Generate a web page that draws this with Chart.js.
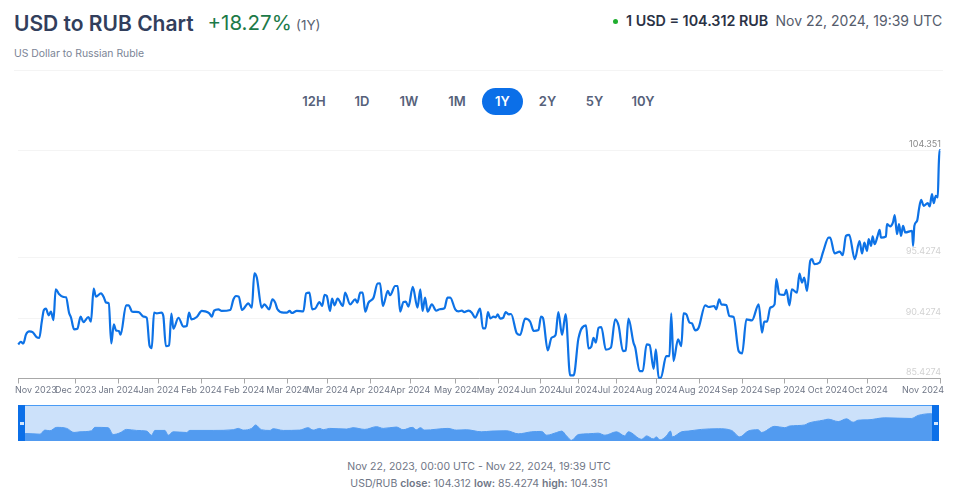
<!DOCTYPE html>
<html><head><meta charset="utf-8">
<script src="https://cdn.jsdelivr.net/npm/chart.js@4"></script>
<style>
html,body{margin:0;padding:0;background:#fff;width:964px;height:500px;overflow:hidden;font-family:Inter,sans-serif}
.a{position:absolute;white-space:nowrap;line-height:1}
.btn{position:absolute;top:94.5px;width:40px;margin-left:-20px;text-align:center;font-size:13px;font-weight:600;color:#56617a;line-height:1}
canvas{position:absolute;display:block}
</style></head><body>
<div class="a" style="left:14px;top:12.5px;font-size:21px;font-weight:600;color:#323e5c">USD to RUB Chart</div>
<div class="a" style="left:207.5px;top:12.5px;font-size:20.5px;font-weight:400;color:#1c7a48">+18.27%</div>
<div class="a" style="left:296px;top:18.5px;font-size:13.5px;color:#5a6272">(1Y)</div>
<div class="a" style="left:14px;top:49px;font-size:10.4px;color:#7b8496">US Dollar to Russian Ruble</div>
<div class="a" style="left:613px;top:18.5px;width:5px;height:5px;border-radius:50%;background:#1fae2e"></div>
<div class="a" style="left:626px;top:14px;font-size:14.3px;font-weight:600;color:#2b3245">1 USD = 104.312 RUB</div>
<div class="a" style="left:775.5px;top:14px;font-size:14px;color:#555c6c">Nov 22, 2024, 19:39 UTC</div>
<div class="a" style="left:14px;top:69.5px;width:929px;height:1px;background:#f4f4f4"></div>
<div class="btn" style="left:314px">12H</div>
<div class="btn" style="left:362px">1D</div>
<div class="btn" style="left:409px">1W</div>
<div class="btn" style="left:457px">1M</div>
<div class="a" style="left:482px;top:88px;width:41px;height:27px;border-radius:14px;background:#0b6fe8"></div>
<div class="btn" style="left:502.5px;color:#fff">1Y</div>
<div class="btn" style="left:547.5px">2Y</div>
<div class="btn" style="left:594.5px">5Y</div>
<div class="btn" style="left:643px">10Y</div>
<canvas id="main" style="left:0;top:130px" width="964" height="270"></canvas>
<div class="a" style="left:18px;top:405px;width:921px;height:36px;background:#cce1fa;border-top:1px solid #4a9bf5;box-sizing:border-box"></div>
<canvas id="nav" style="left:18px;top:405px" width="921" height="36"></canvas>
<div class="a" style="left:18px;top:405px;width:7px;height:36px;background:#0b6fe8"></div>
<div class="a" style="left:932px;top:405px;width:7px;height:36px;background:#0b6fe8"></div>
<div class="a" style="left:19.5px;top:422px;width:4px;height:3px;background:#d5e6fb"></div>
<div class="a" style="left:933.5px;top:422px;width:4px;height:3px;background:#d5e6fb"></div>
<div class="a" style="left:0;width:958px;text-align:center;top:462px;font-size:10.5px;color:#6f7686">Nov 22, 2023, 00:00 UTC - Nov 22, 2024, 19:39 UTC</div>
<div class="a" style="left:0;width:958px;text-align:center;top:479px;font-size:10.5px;color:#6f7686">USD/RUB <b style="font-weight:600">close:</b> 104.312 <b style="font-weight:600">low:</b> 85.4274 <b style="font-weight:600">high:</b> 104.351</div>
<script>
const dayOffsets=[0.1,1.1,2.1,3.2,4.5,5.8,7.4,8.5,9.4,10.3,11.1,12.2,13.1,14.1,15,16.4,18,19.1,20.3,21.1,22.3,23.6,24.9,26,28,29,30.1,31,33,34.2,35,36.1,37.1,38.1,39,40.1,40.8,43,44,45.4,48,49.9,51.2,52.3,53.2,54.1,55.2,57,57.8,58.8,60.1,61,61.8,63.8,65.8,67.1,68,69,71.1,73.1,74.4,76.1,77.1,78,79.7,81,84.4,85.7,86.7,87.8,89.1,91.6,93,94,95,96.9,98,99.9,101.2,102.3,103.2,105.6,106.9,108,108.9,110.9,113.5,114.6,115.9,117,118.2,119.9,121,121.9,122.8,124.1,124.9,125.9,127.1,129.2,130.1,132.1,134.1,135,136.1,137.1,138.1,139.4,141.4,143,144,145.1,147.1,148,150,151,152,153.3,154.2,155.3,157,158.9,160,160.9,161.9,162.9,164.6,166.3,167.7,169.6,170.8,171.9,173.9,175.2,176.5,177.5,179.2,180.5,181.8,183.8,184.9,185.9,186.9,187.9,189.1,190,190.8,191.8,192.9,194,195.2,196.1,198.4,199.7,201.7,203.7,205.1,207,208,208.8,210.7,212.2,213.8,214.9,216.4,217.8,219.6,221,222.9,225.9,226.9,228,228.9,229.8,230.9,232,233.8,235.8,237.5,238.9,240.6,241.7,242.8,244.8,245.5,247.2,248.5,250,251.2,252.8,253.7,254.8,255.7,257.8,259.1,259.8,260.7,262.5,263.8,264.7,265.8,267.1,268,269.4,270.7,273.3,274.7,276.9,277.7,278.9,279.7,281.7,282.9,284.6,286.6,288,289.7,291.9,294.6,295.9,296.8,297.9,299.2,300.9,301.6,302.8,304.8,305.6,306.8,307.8,309.8,310.8,311.8,312.7,313.8,315.1,315.8,316.7,318.8,320.2,322.4,323,324.8,326.8,328,329.3,330.6,332.8,334.7,335.7,336.6,337.7,338.3,339.3,339.9,340.7,341.9,342.7,343.2,345.2,345.6,346.9,348,348.7,349.6,350.4,351.2,352,352.9,355.6,356,356.5,357.6,358.4,359.2,360.2,361.8,362.6,363.5,364.2,365,365.8,366.2,366.5,366.7];
const usdRub=[88.25,88.47,88.33,89.08,89.33,89.27,88.86,88.8,90.05,91.1,91.21,90.66,90.96,90.27,92.82,92.4,92.18,92.15,90.88,90.46,89.5,89.55,90.55,90.1,90.52,90.13,92.87,92.21,92.48,92.12,91.71,91.65,88.33,89.91,89.41,89.36,89.05,91.49,91.49,90.96,90.93,90.55,90.46,88.17,87.95,90.88,90.82,90.88,90.6,88.11,88.17,90.8,89.55,90.46,89.72,89.77,90.88,90.33,90.52,91.02,90.99,90.82,90.55,91.05,91.16,91.02,91.1,91.99,92.26,92.21,91.1,91.65,91.29,94.14,93.78,91.29,91.57,91.16,91.99,91.71,91.16,90.88,90.88,91.02,90.85,91.02,90.99,92.48,92.54,91.16,91.21,91.76,91.43,92.35,92.26,91.02,92.04,91.49,92.04,91.43,92.54,91.57,91.99,91.71,92.54,92.54,90.96,91.71,92.12,93.29,93.31,91.43,92.68,92.32,93.09,93.09,90.96,91.76,91.79,91.38,93.01,91.29,92.82,91.02,92.12,90.96,91.57,91.05,91.16,91.24,92.12,92.12,91.16,90.99,91.05,90.93,91.05,90.88,90.46,91.21,89.58,89.58,90.93,90.41,90.55,90.49,90.74,90.38,90.44,90.93,90.74,90.77,89.16,89.03,90.38,90.13,89.36,89.44,90.55,90.44,87.75,88.8,89.03,90.93,89.03,90.77,85.68,85.68,88.75,89.83,87.92,88.06,88.8,88.39,89.63,89.69,87.81,87.98,90.33,89.77,87.7,87.75,90.38,88.39,87.98,86.04,86.04,88.25,88.2,86.23,87.84,85.49,85.49,87.28,87.28,90.82,86.87,88.67,88.11,90.82,90.74,90.05,90,89.41,89.63,91.49,91.35,91.43,91.16,91.99,91.57,91.52,90.6,90.52,87.7,87.5,90.33,90.24,91.57,89.22,90.13,90.13,91.29,91.57,93.65,92.4,92.35,92.76,91.49,92.82,92.54,94.12,93.37,93.78,92.68,95.17,95.31,94.89,95.03,95.91,97.1,97.1,95.78,95.94,95.64,97.24,97.32,95.31,96.8,95.78,96.69,96,96.97,96.41,97.19,96.55,97.24,97.74,97.1,97.19,98.21,98.02,98.35,98.96,97.38,98.21,97.24,98.07,97.52,97.66,96.41,98.07,98.49,99.54,100.23,99.73,99.95,99.68,100.7,99.95,100.56,100.42,103.05,104.35,104.312];
const navDays=[0,3.1,8.8,10.7,12.7,15.4,19.4,22.3,24.7,29.3,30.6,35.9,37.9,40.6,43.2,47.2,51.2,53.2,54.5,58.5,59.8,61.8,67.1,68.4,77.7,85.7,87.7,89.7,93,94.6,96.9,100.3,101.6,105.6,112.2,115.5,117.5,120.2,121.5,124.1,130.8,133.4,138.1,142.7,145.4,150.7,153.3,157,158.6,160.2,161.9,171.2,174.5,178.5,184.6,188.6,194.6,199.2,204.5,208.5,210.5,214.5,216.5,218.4,220.4,223.1,227.1,231,233.7,238.3,241.6,243,248.3,250.3,252.9,254.2,255.6,258.2,259.8,260.5,264.2,266.8,272.1,278.8,284.1,287.4,290.7,294.7,296,301.3,305.3,307.3,313.3,314.6,320.6,322.6,326.6,329.9,332.5,334.5,338.4,345.1,355.7,358.4,363.7,366.7];
const navRates=[89.61,89.61,89.22,91.57,91.18,93.14,92.55,90.2,90.59,91.18,93.14,92.95,89.03,90,91.97,91.38,90.99,88.63,91.38,91.38,88.63,90.59,90.2,91.38,91.38,91.77,92.55,91.57,92.55,94.52,91.77,91.38,92.36,91.38,91.57,92.95,91.57,92.55,91.77,92.55,92.16,92.95,91.97,93.54,92.55,93.34,91.77,93.14,91.77,92.95,91.57,92.55,91.57,91.77,90.59,90.99,91.18,89.42,90.59,90.79,88.63,90.2,90.99,88.24,85.69,89.03,89.42,89.81,88.63,90.59,88.24,90.59,86.28,88.24,86.48,87.65,85.89,88.24,90.99,87.65,90.59,90.99,91.97,92.36,91.38,87.65,90.99,91.77,90.2,93.73,92.95,93.93,94.52,95.5,97.26,97.85,96.48,98.05,96.08,97.26,97.46,98.63,98.24,100,100.99,100.99];
const tickDays=[0,23,40,56,73,90,107,123,140,156,174,191,208,223,238,254,271,288,305,322,338,366.7];
const tickLabels=["Nov 2023","Dec 2023","Jan 2024","Jan 2024","Feb 2024","Feb 2024","Mar 2024","Mar 2024","Apr 2024","Apr 2024","May 2024","May 2024","Jun 2024","Jul 2024","Jul 2024","Aug 2024","Aug 2024","Sep 2024","Sep 2024","Oct 2024","Oct 2024","Nov 2024"];
const yTicks=[85.4274,90.4274,95.4274,104.351];
const points=dayOffsets.map((d,i)=>({x:d,y:usdRub[i]}));
const navPoints=navDays.map((d,i)=>({x:d,y:navRates[i]}));
Chart.defaults.font.family='Inter, sans-serif';
Chart.defaults.animation=false;
const edgeLabels={id:'edgeLabels',beforeDatasetsDraw(c){
  const items=c.scales.x.getLabelItems();
  if(!c.$edgeDone&&items.length){
    items[0].options.translation[0]-=3;
    items[items.length-1].options.translation[0]+=4;
    c.$edgeDone=true;
  }
}};
new Chart(document.getElementById('main'),{type:'line',
 data:{datasets:[{data:points,borderColor:'#0d72e6',borderWidth:2.2,pointRadius:0,cubicInterpolationMode:'monotone',clip:false}]},
 plugins:[{id:'edgeEarly',beforeDraw(c){edgeLabels.beforeDatasetsDraw(c)}}],
 options:{responsive:false,devicePixelRatio:1,layout:{padding:{left:18,right:24,top:20,bottom:0}},
  plugins:{legend:{display:false},tooltip:{enabled:false}},
  scales:{
   x:{type:'linear',min:0,max:366.7,
    afterBuildTicks:s=>{s.ticks=tickDays.map(v=>({value:v}))},
    afterFit:s=>{s.height=21.5},
    grid:{drawOnChartArea:false,drawTicks:true,tickLength:5,color:'#a8a8a8'},
    border:{color:'#a8a8a8'},
    ticks:{autoSkip:false,maxRotation:0,align:'inner',padding:1,color:'#6f7686',font:{size:9},callback:(v,i)=>tickLabels[i]}},
   y:{type:'linear',position:'right',min:85.4274,max:104.351,
    afterBuildTicks:s=>{s.ticks=yTicks.map(v=>({value:v}))},
    afterFit:s=>{s.width=0},
    grid:{color:'#f4f4f4',drawTicks:false},border:{display:false},
    ticks:{mirror:true,padding:1,labelOffset:-6,font:{size:9},color:c=>c.index===3?'#8a8a8a':'#d2d2d2',callback:(v,i)=>String(yTicks[i])}}
  }}});
new Chart(document.getElementById('nav'),{type:'line',
 data:{datasets:[{data:navPoints,borderColor:'#529bf0',borderWidth:1,backgroundColor:'#529bf0',fill:'start',pointRadius:0,cubicInterpolationMode:'monotone'}]},
 options:{responsive:false,devicePixelRatio:1,layout:{padding:0},plugins:{legend:{display:false},tooltip:{enabled:false}},
  scales:{x:{type:'linear',display:false,min:0,max:366.7},y:{display:false,min:85.3,max:106}}}});
</script>
</body></html>
